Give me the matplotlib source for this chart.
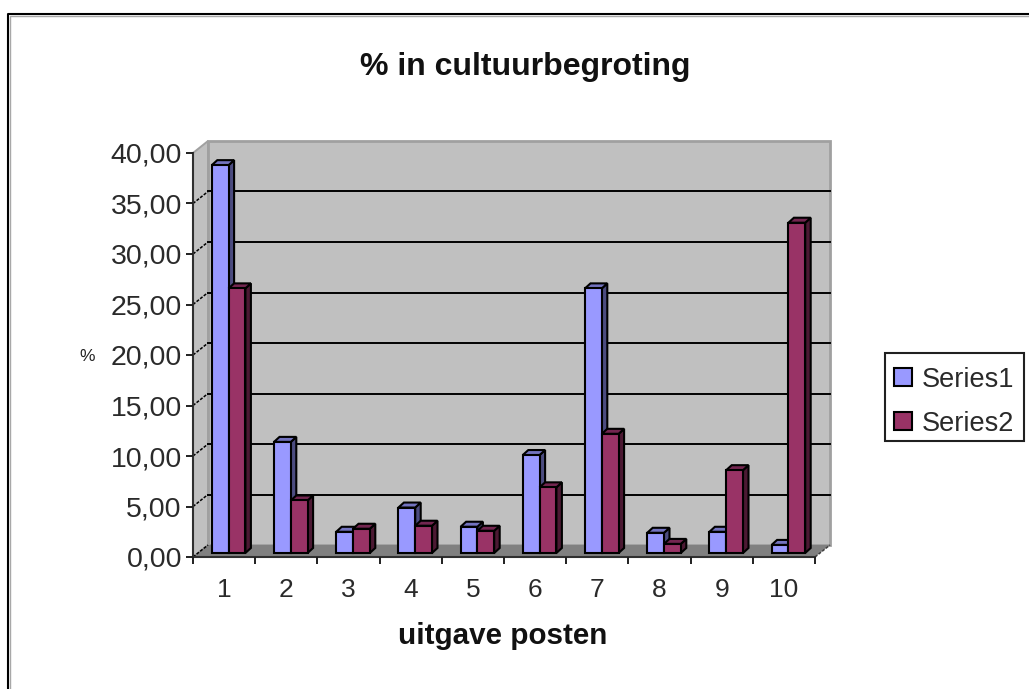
import matplotlib
matplotlib.use("Agg")
import matplotlib.pyplot as plt
from matplotlib.patches import Polygon, Rectangle
from matplotlib.transforms import Affine2D

categories = ["1", "2", "3", "4", "5", "6", "7", "8", "9", "10"]
series1 = [38.4, 11.0, 2.1, 4.5, 2.6, 9.7, 26.2, 2.0, 2.1, 0.8]
series2 = [26.2, 5.2, 2.4, 2.7, 2.2, 6.5, 11.8, 0.9, 8.2, 32.7]
yticks = [0, 5, 10, 15, 20, 25, 30, 35, 40]
ytick_labels = ["0,00", "5,00", "10,00", "15,00", "20,00", "25,00", "30,00", "35,00", "40,00"]

W, H = 1029, 689
plt.rcParams["font.family"] = ["Liberation Sans", "DejaVu Sans"]

fig = plt.figure(figsize=(W / 100, H / 100), dpi=100)


def px_axes(x0, y0, x1, y1):
    return [x0 / W, 1 - y1 / H, (x1 - x0) / W, (y1 - y0) / H]


# front plane of the fake 3d box
ax = fig.add_axes(px_axes(193, 153, 815, 557))
xs = list(range(1, 11))
ax.set_xlim(0.5, 10.5)
ax.set_ylim(0, 40)
ax.patch.set_visible(False)

BACK = (15, 12)
BAR = (4.5, 4)
DEPTH = (5.5, 5)
BW = 0.27


def to_px(x, y, off=(0, 0)):
    px, py = ax.transData.transform((x, y))
    return (px + off[0], py + off[1])


def face(points, color, z, lw=1.5, ec="black"):
    ax.add_patch(Polygon(points, closed=True, transform=None, fc=color, ec=ec, lw=lw,
                         zorder=z, clip_on=False, joinstyle="miter"))


# walls and floor
face([to_px(0.5, 0), to_px(0.5, 40), to_px(0.5, 40, BACK), to_px(0.5, 0, BACK)], "#c0c0c0", 1, 1.4, "#a0a0a0")
ax.add_patch(Rectangle((0.5, 0), 10, 40, fc="#c0c0c0", ec="#a0a0a0", lw=2,
                       transform=ax.transData + Affine2D().translate(*BACK), zorder=1, clip_on=False))
face([to_px(0.5, 0), to_px(10.5, 0), to_px(10.5, 0, BACK), to_px(0.5, 0, BACK)], "#808080", 1.1, 0)

# gridlines on the back wall, dashed slanted part on the side wall
for t in yticks[1:-1]:
    a, b = to_px(0.5, t, BACK), to_px(10.5, t, BACK)
    ax.plot([a[0], b[0]], [a[1], b[1]], transform=None, color="black", lw=1.4, zorder=2, clip_on=False)
for t in yticks[:-1]:
    a, b = to_px(0.5, t), to_px(0.5, t, BACK)
    ax.plot([a[0], b[0]], [a[1], b[1]], transform=None, color="black", lw=1.1, ls=(0, (2, 1)),
            zorder=2, clip_on=False)
a, b = to_px(10.5, 0), to_px(10.5, 0, BACK)
ax.plot([a[0], b[0]], [a[1], b[1]], transform=None, color="#404040", lw=1.1, ls=(0, (2, 1)),
        zorder=1.2, clip_on=False)

# bars, back to front order, right series over left side face
bar_tf = ax.transData + Affine2D().translate(*BAR)
positions1 = [x - BW for x in xs]
bars1 = ax.bar(positions1, series1, width=BW, align="edge", color="#9999ff", edgecolor="black", lw=1.5,
               transform=bar_tf, zorder=4, label="Series1", clip_on=False)
bars2 = ax.bar(xs, series2, width=BW, align="edge", color="#993366", edgecolor="black", lw=1.5,
               transform=bar_tf, zorder=6, label="Series2", clip_on=False)


def bar_sides(lefts, vals, top_c, side_c, z):
    off2 = (BAR[0] + DEPTH[0], BAR[1] + DEPTH[1])
    for l, v in zip(lefts, vals):
        r = l + BW
        face([to_px(r, 0, BAR), to_px(r, v, BAR), to_px(r, v, off2), to_px(r, 0, off2)], side_c, z)
        face([to_px(l, v, BAR), to_px(r, v, BAR), to_px(r, v, off2), to_px(l, v, off2)], top_c, z)


bar_sides(positions1, series1, "#7373bf", "#4c4c80", 3)
bar_sides(xs, series2, "#732650", "#4c1933", 5)

# axes
ax.set_xticks([x - 0.5 for x in xs] + [10.5])
ax.set_xticklabels([])
ax.set_xticks(xs, categories, minor=True)
ax.tick_params(axis="x", which="minor", length=0, labelsize=19, pad=15, colors="#2a2a2a")
ax.tick_params(axis="x", which="major", length=5, width=1.4, direction="out", color="#202020")
ax.set_yticks(yticks, ytick_labels)
ax.tick_params(axis="y", length=5, width=1.4, labelsize=20.5, pad=3, color="#202020", labelcolor="#2a2a2a")
for s in ["top", "right"]:
    ax.spines[s].set_visible(False)
for s in ["left", "bottom"]:
    ax.spines[s].set_linewidth(1.5)
    ax.spines[s].set_color("#303030")
ax.set_axisbelow(False)

fig.text(525 / W, 1 - 67 / H, "% in cultuurbegroting", fontsize=23, fontweight="bold",
         ha="center", va="center", color="#111111")
fig.text(503 / W, 1 - 636 / H, "uitgave posten", fontsize=21.3, fontweight="bold",
         ha="center", va="center", color="#111111")
fig.text(87 / W, 1 - 356 / H, "%", fontsize=12.5, ha="center", va="center", color="#222222")

# legend box drawn apart, the rows sit a bit low in it
fig.add_artist(Rectangle((885 / W, 1 - 441 / H), 139 / W, 88 / H, transform=fig.transFigure,
                         fc="white", ec="#202020", lw=1.5))
leg = fig.legend(handles=[bars1, bars2], labels=["Series1", "Series2"], loc="upper left",
                 bbox_to_anchor=(885 / W, 1 - 358 / H), fontsize=19.5, frameon=False,
                 labelcolor="#2a2a2a", handlelength=0.65, handleheight=0.65,
                 handletextpad=0.38, labelspacing=0.66, borderpad=0.33, borderaxespad=0)

# chart area border, black with a gray inner shadow
fig.add_artist(plt.Line2D([9.5 / W, 9.5 / W, 1], [0, 1 - 15.5 / H, 1 - 15.5 / H], color="#a8a8a8", lw=1))
fig.add_artist(plt.Line2D([8 / W, 8 / W, 1], [0, 1 - 14 / H, 1 - 14 / H], color="black", lw=1.5))

fig.savefig("out.png", dpi=100)
plt.close()
